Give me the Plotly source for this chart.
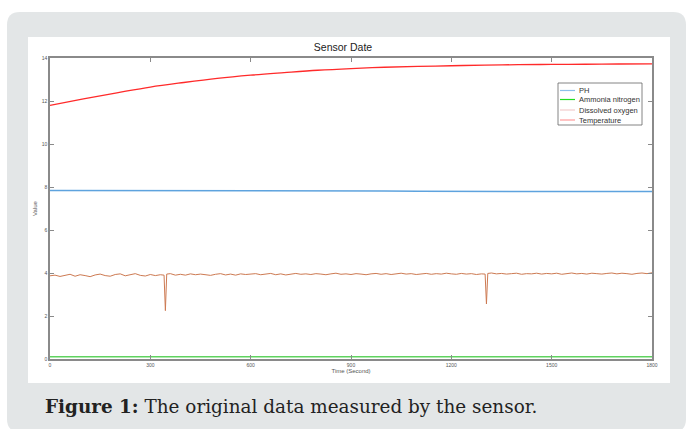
import plotly.graph_objects as go

# ---------------- data ----------------
temp_t = [0, 100, 200, 300, 400, 500, 600, 700, 800, 900, 1000, 1100, 1200, 1300, 1400, 1500, 1600, 1700, 1800]
temp_v = [11.80, 12.10, 12.38, 12.65, 12.86, 13.05, 13.20, 13.32, 13.43, 13.51, 13.57, 13.61, 13.64, 13.67,
          13.69, 13.70, 13.71, 13.72, 13.73]

ph_t = [0, 100, 200, 300, 400, 500, 600, 700, 800, 900, 1000, 1100, 1200, 1300, 1400, 1500, 1600, 1700, 1800]
ph_v = [7.84, 7.84, 7.83, 7.82, 7.84, 7.83, 7.83, 7.82, 7.83, 7.82, 7.81, 7.80, 7.80, 7.80, 7.79, 7.79, 7.79, 7.78, 7.79]

nh_t = [0, 300, 600, 900, 1200, 1500, 1800]
nh_v = [0.11, 0.11, 0.10, 0.11, 0.10, 0.11, 0.10]

do_t = (list(range(0, 331, 15)) + [341, 345, 349] + list(range(360, 1291, 15))
        + [1301, 1305, 1309] + list(range(1320, 1801, 15)))
do_v = [3.87, 3.90, 3.84, 3.89, 3.94, 3.85, 3.92, 3.88, 3.83, 3.91,
        3.95, 3.88, 3.85, 3.93, 3.96, 3.87, 3.91, 3.97, 3.89, 3.86,
        3.93, 3.88, 3.92, 3.90, 2.25, 3.95, 3.97, 3.90, 3.94, 3.90, 3.96, 3.92,
        3.95, 3.93, 3.89, 3.94, 3.97, 3.91, 3.95, 3.90, 3.96, 3.93,
        3.94, 3.97, 3.92, 3.95, 3.98, 3.92, 3.96, 3.91, 3.95, 3.98,
        3.94, 3.96, 3.93, 3.97, 3.95, 3.92, 3.96, 3.99, 3.94, 3.96,
        3.93, 3.97, 3.95, 3.92, 3.96, 3.98, 3.94, 3.97, 3.93, 3.96,
        3.99, 3.95, 3.97, 3.93, 3.96, 3.98, 3.94, 3.97, 3.95, 3.99,
        3.96, 3.94, 3.98, 3.95, 3.97, 3.93, 3.96, 3.95, 2.56, 3.98, 4.00, 3.96,
        3.98, 3.95, 3.97, 3.99, 3.94, 3.97, 3.96, 3.99, 3.95, 3.98,
        3.96, 3.99, 3.94, 3.97, 4.00, 3.96, 3.98, 3.95, 3.99, 3.97,
        3.95, 3.98, 4.00, 3.96, 3.99, 3.97, 3.94, 3.98, 4.00, 3.97, 4.01]

series_names = ["PH", "Ammonia nitrogen", "Dissolved oxygen", "Temperature"]
line_colors = ["#5ea3de", "#5fd35f", "#cd7a52", "#ff2a2a"]
legend_colors = ["#8dc0ea", "#22dd22", "#f2cccc", "#ff9a9a"]

x_ticks = [0, 300, 600, 900, 1200, 1500, 1800]
y_ticks = [0, 2, 4, 6, 8, 10, 12, 14]

# ---------------- figure ----------------
W, H = 686, 429
L, R, T, B = 50, 34, 58, 70          # plot area 50..652 x 58..359
PW, PH = W - L - R, H - T - B


def px(x):
    return (x - L) / PW


def py(y):
    return (H - B - y) / PH


def rrect(x0, y0, x1, y1, r):
    rx, ry = r / PW, r / PH
    X0, X1 = px(x0), px(x1)
    Y0, Y1 = py(y0), py(y1)
    return (f"M {X0+rx},{Y0} L {X1-rx},{Y0} Q {X1},{Y0} {X1},{Y0-ry} "
            f"L {X1},{Y1+ry} Q {X1},{Y1} {X1-rx},{Y1} L {X0+rx},{Y1} "
            f"Q {X0},{Y1} {X0},{Y1+ry} L {X0},{Y0-ry} Q {X0},{Y0} {X0+rx},{Y0} Z")


fig = go.Figure()
data = [(ph_t, ph_v, 1.5, "linear"), (nh_t, nh_v, 1.5, "linear"),
        (do_t, do_v, 1.0, "linear"), (temp_t, temp_v, 1.3, "spline")]
for (t, v, w, shp), name, col in zip(data, series_names, line_colors):
    fig.add_trace(go.Scatter(x=t, y=v, mode="lines", name=name, line_shape=shp,
                             line=dict(color=col, width=w)))

font = "Liberation Sans, Arial, sans-serif"
axis_common = dict(showline=True, mirror="ticks", linecolor="#8a8a8a", linewidth=1.5,
                   ticks="inside", ticklen=4, tickcolor="#8a8a8a", showgrid=False, zeroline=False,
                   tickfont=dict(family=font, size=5, color="#555555"))

shapes = [
    dict(type="path", xref="paper", yref="paper", path=rrect(7, 12, 686, 432, 13),
         fillcolor="#e3e6e7", line=dict(width=0), layer="below"),
    dict(type="rect", xref="paper", yref="paper", x0=px(28), x1=px(670), y0=py(37), y1=py(383),
         fillcolor="white", line=dict(width=0), layer="below"),
    # legend box
    dict(type="rect", xref="paper", yref="paper", x0=px(558), x1=px(642), y0=py(83), y1=py(125),
         fillcolor="white", line=dict(color="#666666", width=0.8), layer="above"),
]
annotations = [
    dict(text="<b>Figure 1:</b> The original data measured by the sensor.",
         xref="paper", yref="paper", x=px(43), y=py(406), xanchor="left", yanchor="middle",
         showarrow=False, font=dict(family="DejaVu Serif, Liberation Serif, serif", size=18.4, color="#222222")),
]
row_y = [90.5, 99.5, 110, 120]
for name, col, yy in zip(series_names, legend_colors, row_y):
    shapes.append(dict(type="line", xref="paper", yref="paper", x0=px(560), x1=px(575), y0=py(yy), y1=py(yy),
                       line=dict(color=col, width=1.2), layer="above"))
    annotations.append(dict(text=name, xref="paper", yref="paper", x=px(577), y=py(yy),
                            xanchor="left", yanchor="middle", showarrow=False,
                            font=dict(family=font, size=7.5, color="#333333")))

fig.update_layout(
    width=W, height=H,
    margin=dict(l=L, r=R, t=T, b=B),
    paper_bgcolor="white", plot_bgcolor="white",
    title=dict(text="Sensor Date", x=px(351), xanchor="center", y=1 - 47 / H, yanchor="middle",
               font=dict(family=font, size=10.5, color="#222222")),
    xaxis=dict(range=[0, 1800], tickvals=x_ticks, ticktext=[str(v) for v in x_ticks],
               title=dict(text="Time (Second)", font=dict(family=font, size=6, color="#555555"), standoff=2),
               **axis_common),
    yaxis=dict(range=[0, 14], tickvals=y_ticks, ticktext=[str(v) for v in y_ticks],
               title=dict(text="Value", font=dict(family=font, size=6, color="#555555"), standoff=4),
               **axis_common),
    showlegend=False,
    shapes=shapes,
    annotations=annotations,
)

fig.write_html("out.html", config={"displayModeBar": False},
               post_script="document.body.style.margin='0';document.body.style.overflow='hidden';")
